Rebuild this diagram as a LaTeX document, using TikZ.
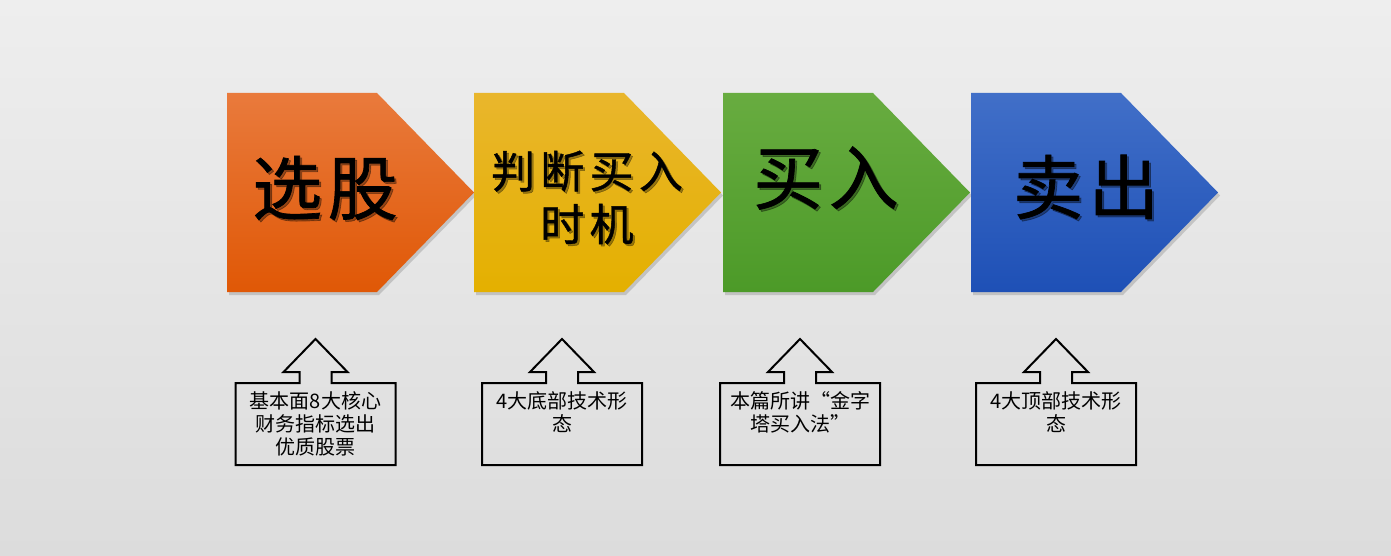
\documentclass[tikz,border=0pt]{standalone}
\usepackage{fontspec}
\setmainfont{Noto Sans CJK SC}
\definecolor{bgtop}{HTML}{EEEEEE}
\definecolor{bgbot}{HTML}{DCDCDC}
\definecolor{orangetop}{HTML}{E97A3C}
\definecolor{orangebot}{HTML}{E05806}
\definecolor{yellowtop}{HTML}{E9B62C}
\definecolor{yellowbot}{HTML}{E4B000}
\definecolor{greentop}{HTML}{68AC40}
\definecolor{greenbot}{HTML}{4C9A28}
\definecolor{bluetop}{HTML}{416FC8}
\definecolor{bluebot}{HTML}{1E50B6}
\tikzset{
  bigfont/.style={font=\fontsize{70}{70}\selectfont\addfontfeatures{LetterSpace=8,FakeBold=1}},
  midfont/.style={font=\fontsize{44}{53}\selectfont\addfontfeatures{LetterSpace=12,FakeBold=1}},
  steptext/.style={text=black, inner sep=0pt, align=center},
  stepshadow/.style={text=black, text opacity=0.35, inner sep=0pt, align=center},
  callout/.style={draw=black, line width=2pt, line join=miter},
  notetext/.style={anchor=north, inner sep=0pt, align=center, text width=150pt,
    font=\fontsize{20}{23}\selectfont},
}
\begin{document}
\begin{tikzpicture}[x=1pt,y=-1pt]
    \shade[top color=bgtop, bottom color=bgbot] (0,0) rectangle (1391,556);
    \useasboundingbox (0,0) rectangle (1391,556);
    % shadows of the steps
    \fill[black,opacity=0.15] (229,96) -- (379,96) -- (476,195.5) -- (379,295) -- (229,295) -- cycle;
    \fill[black,opacity=0.15] (476,96) -- (626,96) -- (723,195.5) -- (626,295) -- (476,295) -- cycle;
    \fill[black,opacity=0.15] (725,96) -- (875,96) -- (972,195.5) -- (875,295) -- (725,295) -- cycle;
    \fill[black,opacity=0.15] (973,96) -- (1123,96) -- (1220,195.5) -- (1123,295) -- (973,295) -- cycle;
    % steps
    \shade[top color=orangetop,bottom color=orangebot] (227,93) -- (377,93) -- (474,192.5) -- (377,292) -- (227,292) -- cycle;
    \shade[top color=yellowtop,bottom color=yellowbot] (474,93) -- (624,93) -- (721,192.5) -- (624,292) -- (474,292) -- cycle;
    \shade[top color=greentop,bottom color=greenbot] (723,93) -- (873,93) -- (970,192.5) -- (873,292) -- (723,292) -- cycle;
    \shade[top color=bluetop,bottom color=bluebot] (971,93) -- (1121,93) -- (1218,192.5) -- (1121,292) -- (971,292) -- cycle;
    % step labels
    \node[stepshadow,bigfont] (selsh) at (327,190) {选股};
    \node[steptext,bigfont] (sel) at (325,188) {选股};
    \node[stepshadow,midfont] (timesh) at (589,199.5) {判断买入\\时机};
    \node[steptext,midfont] (time) at (587,197.5) {判断买入\\时机};
    \node[stepshadow,bigfont] (buysh) at (828,180) {买入};
    \node[steptext,bigfont] (buy) at (826,178) {买入};
    \node[stepshadow,bigfont] (sellsh) at (1088,189) {卖出};
    \node[steptext,bigfont] (sell) at (1086,187) {卖出};
    % callouts
    \draw[callout] (235.5,465) -- (235.5,383) -- (299.5,383) -- (299.5,372) -- (283.5,372) -- (315.5,339) -- (347.5,372) -- (331.5,372) -- (331.5,383) -- (395.5,383) -- (395.5,465) -- cycle;
    \draw[callout] (482,465) -- (482,383) -- (546,383) -- (546,372) -- (530,372) -- (562,339) -- (594,372) -- (578,372) -- (578,383) -- (642,383) -- (642,465) -- cycle;
    \draw[callout] (720,465) -- (720,383) -- (784,383) -- (784,372) -- (768,372) -- (800,339) -- (832,372) -- (816,372) -- (816,383) -- (880,383) -- (880,465) -- cycle;
    \draw[callout] (976,465) -- (976,383) -- (1040,383) -- (1040,372) -- (1024,372) -- (1056,339) -- (1088,372) -- (1072,372) -- (1072,383) -- (1136,383) -- (1136,465) -- cycle;
    \node[notetext] (selnote) at (315.5,391) {基本面8大核心\\财务指标选出\\优质股票};
    \node[notetext] (timenote) at (562,391) {4大底部技术形\\态};
    \node[notetext] (buynote) at (800,391) {本篇所讲“金字\\塔买入法”};
    \node[notetext] (sellnote) at (1056,391) {4大顶部技术形\\态};
\end{tikzpicture}
\end{document}
